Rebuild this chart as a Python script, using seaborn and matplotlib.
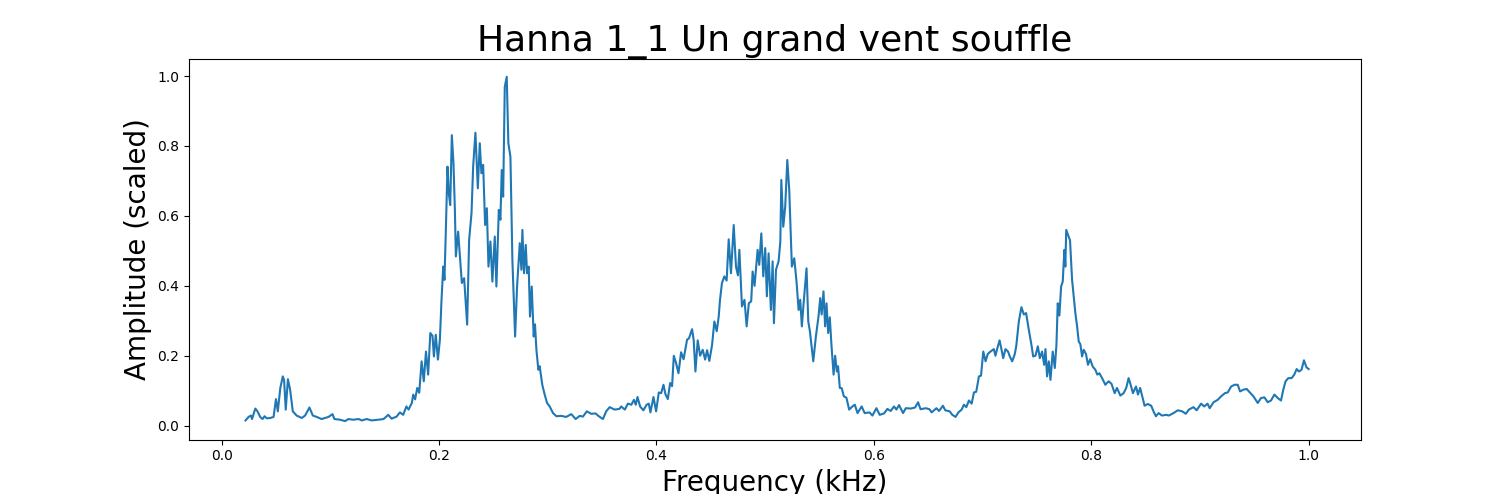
import matplotlib
matplotlib.use("Agg")
import matplotlib.pyplot as plt
import seaborn as sns
import pandas as pd

# frequency (kHz) and scaled amplitude
freq = [
    .022, .0248, .027, .028, .031, .033, .0355, .0376, .0395, .0416, .0447, .0478,
    .050, .0517, .054, .0563, .0575, .059, .061, .063, .0655, .069, .0738, .0768,
    .0808, .0839, .0875, .092, .0983, .102, .1038, .109, .1136, .1166, .121, .126,
    .129, .1334, .138, .144, .149, .1533, .1564, .161, .164,
    .167, .170, .172, .175, .1763, .178, .180, .1818, .184, .186, .188, .190,
    .192, .194, .1953, .197, .199, .2008, .2023, .2039, .205, .2063, .2078, .209,
    .2103, .2118, .2133, .2146, .2155, .2176, .2192, .221, .2231, .2259, .2277,
    .2299, .2314, .2335, .2357, .2375, .239, .2406, .2424, .244, .2455, .2473,
    .2491, .2513, .2528, .255, .2565, .2577, .259, .2605, .2623, .2638, .2657,
    .2675, .270, .2718, .2743, .2758, .2767, .2782, .2798, .281, .2825, .2837,
    .2853, .2871, .2883, .2896, .2914, .2926, .295, .2972, .2994, .3018, .3049,
    .308, .3125, .317, .3217, .3257, .3294,
    .3324, .336, .340, .344, .347, .3508, .3538, .357, .3615, .366, .3676, .371,
    .3737, .377, .3793, .381, .3826, .385, .388, .391, .393, .3945, .3973, .3997,
    .4022, .4044, .4065, .4083, .4105, .4126, .4144, .416, .418, .4203, .4227,
    .425, .4282, .430, .4328, .4343, .4359, .438, .4402, .4426, .4448, .4466,
    .4487, .4512, .4533, .4555, .4573, .4585, .4603, .4625, .4646,
    .4665, .4686, .4711, .4732, .475, .4763, .4787, .481, .483, .485, .4872,
    .4885, .4903, .4931, .4946, .4965, .4983, .5001, .5016, .5032, .5053, .5069,
    .5081, .510, .5124, .514, .5149, .5167, .5185, .5204, .5222, .5246, .5268,
    .529, .5308, .5323, .5338, .5354, .5381, .5397, .5412, .5443, .5467, .5491,
    .5507, .552, .5537, .5552, .5565, .558, .5595, .5611, .563, .5644, .566,
    .5671, .5687, .5705, .5724, .5748, .5773, .5803, .5825, .585, .5888, .5916,
    .596,
    .5987, .6024, .6054, .6094, .6125, .6155, .6186, .6208, .6232, .6269, .6294,
    .634, .638, .6407, .643, .6478, .6512, .6532, .6576, .660, .6636, .6657,
    .6698, .6722, .6752, .6778, .6808, .6829, .6851, .6875, .690, .6921, .6942,
    .6967, .6986, .7007, .7028, .7048, .7073, .7104, .7119, .7134, .7157, .7174,
    .719, .7211, .7235, .7251, .7273, .7297, .731, .7334, .7358, .738, .7401,
    .7426, .745, .7466, .7487, .7509, .7527, .7548, .7567, .7579, .7594, .761,
    .7625, .7646, .7665, .768, .7692, .7707, .7723, .7738, .7753, .7762, .777,
    .7805, .7824, .7839, .7854, .787, .7885, .790, .7916, .7931, .7952, .797,
    .799, .8014, .8038, .8056, .8075, .810, .813, .816, .8186, .8216, .8237,
    .8268, .8298, .8322, .8344, .836, .8384, .8412, .843, .845, .8473, .8491,
    .852, .8552, .8573, .8595, .862, .865, .869, .8714, .8757, .8797, .8837,
    .887, .8898, .8941, .897, .9011, .904, .907, .909, .9125, .9164, .9195,
    .923, .9256, .9287, .9318, .9348, .9369, .940, .943, .946, .9492, .9532,
    .9562, .9593, .9624, .9654, .9685, .9716, .9746, .9767, .9788, .9813, .9844,
    .9868, .989, .991, .9935, .9957, .998, 1.0,
]
amp = [
    .015, .025, .029, .019, .049, .041, .025, .019, .027, .021, .022, .025,
    .076, .041, .108, .141, .130, .046, .133, .103, .041, .029, .022, .029,
    .052, .029, .025, .019, .025, .033, .019, .017, .013, .019, .017, .019,
    .015, .019, .015, .017, .019, .031, .020, .026, .038,
    .031, .055, .046, .065, .089, .075, .108, .094, .184, .127, .212, .146,
    .265, .257, .198, .260, .189, .246, .360, .455, .417, .560, .741, .665,
    .631, .831, .751, .617, .484, .555, .484, .408, .422, .289, .531,
    .608, .741, .838, .679, .808, .722, .746, .574, .622, .455, .527,
    .412, .541, .398, .617, .589, .731, .655, .969, .998, .808, .769,
    .474, .255, .398, .522, .446, .560, .436, .517, .436, .455, .312,
    .398, .255, .290, .217, .160, .170, .117, .089, .065, .055, .036,
    .027, .028, .025, .033, .019, .028,
    .026, .041, .034, .035, .027, .019, .041, .053, .046, .048, .055, .046,
    .063, .060, .074, .060, .082, .055, .044, .060, .063, .038, .082, .041,
    .095, .093, .117, .090, .076, .122, .113, .200, .180, .150, .210,
    .190, .246, .250, .276, .244, .155, .244, .200, .217, .189, .216,
    .185, .231, .298, .270, .312, .360, .408, .427, .415,
    .533, .436, .574, .455, .430, .503, .341, .360, .284, .350, .356,
    .441, .400, .503, .460, .550, .427, .508, .370, .493, .331, .470,
    .293, .446, .470, .527, .703, .569, .627, .760, .674, .455, .479,
    .408, .331, .360, .284, .350, .450, .298, .270, .184, .255, .312,
    .365, .318, .384, .284, .350, .265, .310, .227, .146, .200, .155,
    .170, .108, .107, .084, .080, .046, .055, .060, .036, .055, .036,
    .038,
    .029, .050, .031, .035, .048, .042, .055, .046, .059, .036, .050,
    .049, .052, .067, .047, .050, .047, .038, .050, .042, .057, .044,
    .041, .031, .025, .038, .046, .060, .053, .072, .063, .095, .097,
    .141, .143, .212, .184, .205, .212, .219, .200, .219, .244, .219,
    .193, .219, .212, .198, .184, .205, .227, .298, .339, .318, .322,
    .274, .231, .198, .200, .227, .193, .212, .174, .219, .141, .184,
    .131, .212, .165, .231, .350, .315, .398, .412, .503, .455, .560,
    .530, .417, .369, .322, .284, .241, .233, .198, .217, .205, .174,
    .190, .169, .160, .146, .150, .136, .117, .127, .120, .093, .108,
    .086, .093, .108, .136, .120, .093, .112, .089, .108, .079, .057,
    .062, .057, .041, .027, .036, .029, .031, .029, .036, .044, .041,
    .034, .046, .053, .044, .063, .055, .063, .050, .067, .074, .084,
    .093, .095, .112, .117, .117, .098, .103, .105, .095, .084, .065,
    .079, .081, .067, .072, .089, .079, .072, .103, .127, .136, .136,
    .146, .162, .155, .160, .187, .167, .162,
]

df = pd.DataFrame({"Frequency": freq, "Amplitude": amp})

fig, ax = plt.subplots(figsize=(15.12, 4.94), dpi=100)
fig.subplots_adjust(left=0.125, right=0.9, top=0.88, bottom=0.11)

sns.lineplot(data=df, x="Frequency", y="Amplitude", ax=ax, color="#1f77b4", linewidth=1.5)

ax.set_xlim(-0.030, 1.048)
ax.set_ylim(-0.040, 1.048)
ax.set_title("Hanna 1_1 Un grand vent souffle", fontsize=26)
ax.set_xlabel("Frequency (kHz)", fontsize=20)
ax.set_ylabel("Amplitude (scaled)", fontsize=20)

plt.savefig("out.png", dpi=100)
